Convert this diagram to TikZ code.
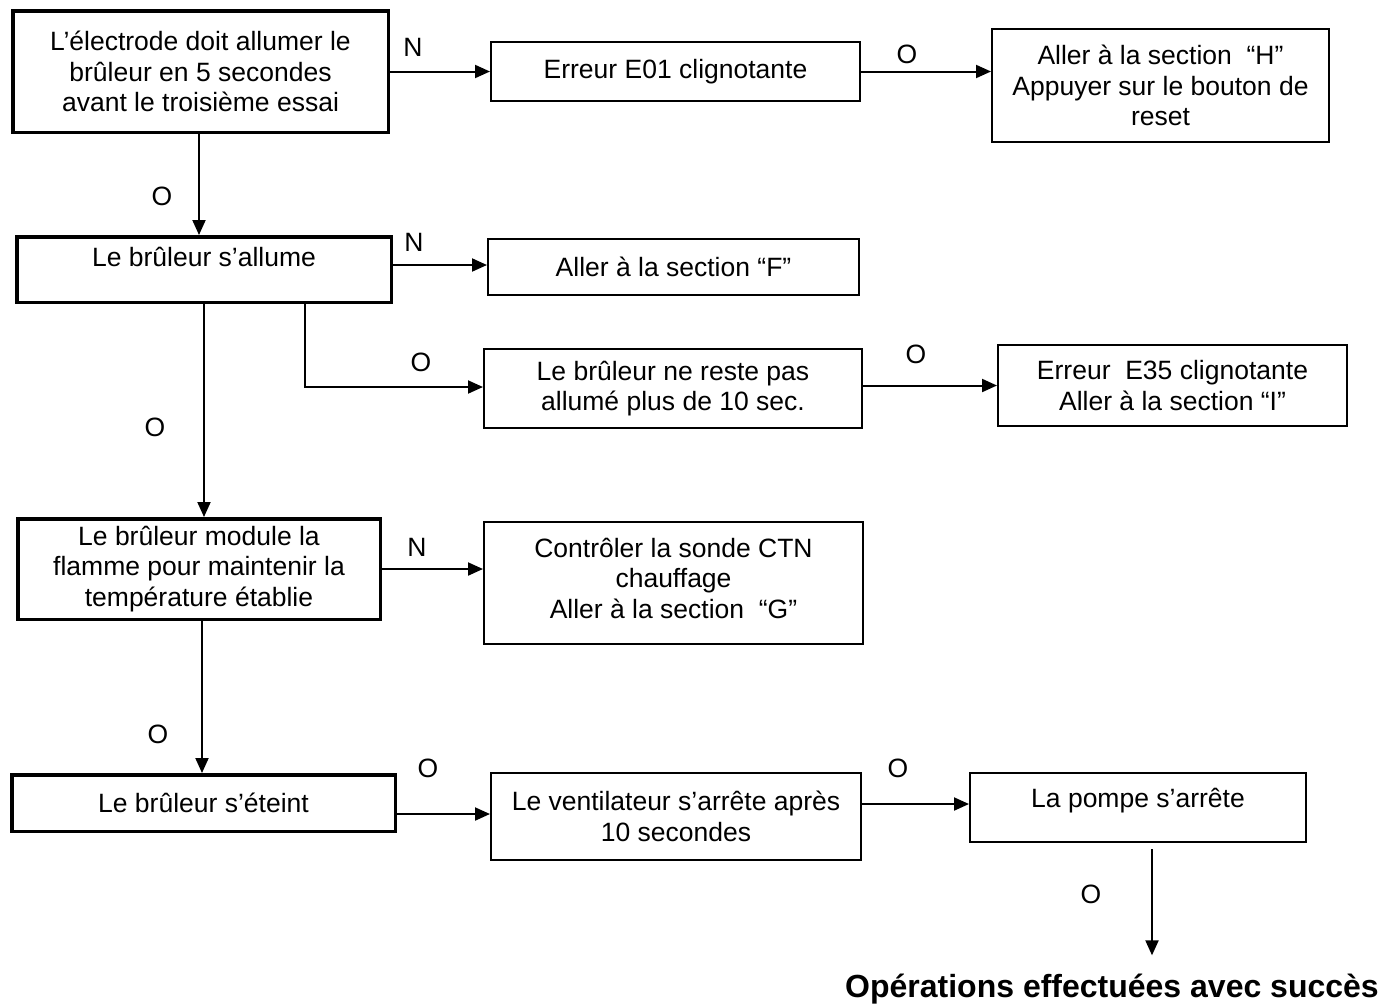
\documentclass[tikz,border=0pt]{standalone}
\usepackage{fontspec}
\setmainfont{Liberation Sans}
\usetikzlibrary{arrows.meta,calc}
\begin{document}
\begin{tikzpicture}[x=1pt,y=-1pt,
  every node/.style={font=\fontsize{26.5}{30.5}\selectfont},
  box/.style={draw, line width=2pt, inner sep=0pt, align=center},
  thickbox/.style={box, line width=3.5pt},
  conn/.style={line width=2pt, -{Triangle[length=15pt,width=13pt]}},
  lbl/.style={inner sep=0pt}]
\useasboundingbox (0,0) rectangle (1396,1005);

% left column
\node[thickbox, minimum width=375.5pt, minimum height=121.5pt] (A) at (200.5,71.5)
  {L’électrode doit allumer le\\brûleur en 5 secondes\\avant le troisième essai};
\node[thickbox, minimum width=374.5pt, minimum height=65.5pt, text height=20pt, text depth=26pt] (allume) at (204,269.5)
  {Le brûleur s’allume};
\node[thickbox, minimum width=362.5pt, minimum height=100.5pt] (module) at (199,569)
  {Le brûleur module la\\flamme pour maintenir la\\température établie};
\node[thickbox, minimum width=383.5pt, minimum height=56.5pt] (eteint) at (203.5,803)
  {Le brûleur s’éteint};

% middle column
\node[box, minimum width=369pt, minimum height=59pt] (E01) at (675.5,71.5)
  {Erreur E01 clignotante};
\node[box, minimum width=371pt, minimum height=56pt] (F) at (673.5,267)
  {Aller à la section “F”};
\node[box, minimum width=378pt, minimum height=79pt] (reste) at (673,388.5)
  {Le brûleur ne reste pas\\allumé plus de 10 sec.};
\node[box, minimum width=379pt, minimum height=122pt, text depth=10pt] (CTN) at (673.5,583)
  {Contrôler la sonde CTN\\chauffage\\Aller à la section\ \ “G”};
\node[box, minimum width=370pt, minimum height=87pt] (ventil) at (676,816.5)
  {Le ventilateur s’arrête après\\10 secondes};

% right column
\node[box, minimum width=337pt, minimum height=113pt] (H) at (1160.5,85.5)
  {Aller à la section\ \ “H”\\Appuyer sur le bouton de\\reset};
\node[box, minimum width=349pt, minimum height=81pt] (E35) at (1172.5,385.5)
  {Erreur\ \ E35 clignotante\\Aller à la section “I”};
\node[box, minimum width=336pt, minimum height=69pt, text height=20pt, text depth=20pt] (pompe) at (1138,807.5)
  {La pompe s’arrête};

\node[font=\fontsize{32}{38}\selectfont\bfseries, anchor=base, inner sep=0pt] (fin) at (1112,997)
  {Opérations effectuées avec succès};

% labels
\node[lbl] (l1) at (413,47) {N};
\node[lbl] (l2) at (162,196) {O};
\node[lbl] (l3) at (907,54) {O};
\node[lbl] (l4) at (414,242) {N};
\node[lbl] (l5) at (155,427) {O};
\node[lbl] (l6) at (421,362) {O};
\node[lbl] (l7) at (916,354) {O};
\node[lbl] (l8) at (417,547) {N};
\node[lbl] (l9) at (158,734) {O};
\node[lbl] (l10) at (428,768) {O};
\node[lbl] (l11) at (898,768) {O};
\node[lbl] (l12) at (1091,894) {O};

% connectors
\draw[conn] ([xshift=-1.5pt]A.south) -- ([xshift=-1.5pt]A.south |- allume.north);
\draw[conn] (A.east) -- (E01.west);
\draw[conn] (E01.east) -- (E01.east -| H.west);
\draw[conn] ([yshift=2pt]F.west -| allume.east) -- ([yshift=2pt]F.west);
\draw[conn] (allume.south) -- (allume.south |- module.north);
\coordinate (b1) at (305,387);
\draw[conn] (allume.south -| b1) -- (b1) -- (b1 -| reste.west);
\draw[conn] (E35.west -| reste.east) -- (E35.west);
\draw[conn] (module.east) -- (module.east -| CTN.west);
\draw[conn] ([xshift=3pt]module.south) -- ([xshift=3pt]module.south |- eteint.north);
\draw[conn] ([yshift=2.5pt]ventil.west -| eteint.east) -- ([yshift=2.5pt]ventil.west);
\draw[conn] ([yshift=3.5pt]pompe.west -| ventil.east) -- ([yshift=3.5pt]pompe.west);
\coordinate (p1) at (1152,849);
\draw[conn] (p1) -- (p1 |- fin.north) [shorten >=18pt];
\end{tikzpicture}
\end{document}
